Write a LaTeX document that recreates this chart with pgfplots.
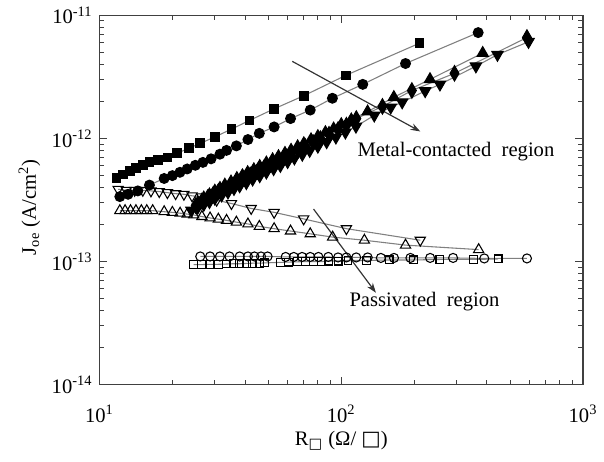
\documentclass[border=0pt]{standalone}
\usepackage{fontspec}
\setmainfont{Liberation Serif}
\newfontfamily\dejavu{DejaVu Sans}
\usepackage{pgfplots}
\pgfplotsset{compat=1.18}
\usetikzlibrary{arrows.meta}

\pgfplotsset{
  ser/.style={color=black!50, line width=0.55pt},
}

\begin{document}
\begin{tikzpicture}[font=\fontsize{10.5}{12.6}\selectfont]
\begin{axis}[
    scale only axis,
    width=245.5bp, height=187.5bp,
    xmode=log, ymode=log,
    xmin=10, xmax=1000, ymin=1e-14, ymax=1e-11,
    xtick={10,100,1000},
    xticklabels={10\textsuperscript{1},10\textsuperscript{2},10\textsuperscript{3}},
    ytick={1e-14,1e-13,1e-12,1e-11},
    yticklabels={10\textsuperscript{-14},10\textsuperscript{-13},10\textsuperscript{-12},10\textsuperscript{-11}},
    tick align=inside,
    major tick length=4bp, minor tick length=2.5bp,
    xticklabel style={yshift=-7bp},
    xlabel={R\textsubscript{\dejavu □} (Ω/ {\dejavu □})},
    ylabel={J\textsubscript{oe} (A/cm\textsuperscript{2})},
    xlabel style={at={(axis description cs:0.5,-0.152)}, anchor=center},
    ylabel style={at={(axis description cs:-0.145,0.48)}, anchor=center},
    axis line style={black!75, line width=0.6pt},
    every tick/.style={black!75, line width=0.5pt},
]
% metal-contacted region, filled symbols
\addplot[ser, mark=square*, mark size=2.2bp, mark options={solid, draw=black, fill=black}] coordinates {
(11.77,4.79e-13) (12.53,5.09e-13) (13.34,5.42e-13) (14.19,5.75e-13) (15.11,6.11e-13)
(16.09,6.43e-13) (17.51,6.70e-13) (19.10,7.01e-13) (20.98,7.59e-13) (23.41,8.32e-13)
(26.11,9.12e-13) (30.05,1.03e-12) (35.14,1.19e-12) (41.72,1.40e-12) (52.76,1.74e-12)
(69.89,2.22e-12) (104.3,3.25e-12) (210.8,5.94e-12)};
\addplot[ser, mark=*, mark size=2.5bp, mark options={solid, draw=black, fill=black}] coordinates {
(12.14,3.37e-13) (13.13,3.52e-13) (14.41,3.75e-13) (16.09,4.18e-13) (18.52,4.73e-13)
(20.02,4.99e-13) (21.52,5.31e-13) (23.05,5.65e-13) (24.91,6.05e-13) (26.77,6.39e-13)
(28.94,6.83e-13) (31.49,7.45e-13) (33.54,8.00e-13) (36.83,8.70e-13) (41.11,9.80e-13)
(45.82,1.10e-12) (52.76,1.24e-12) (61.68,1.45e-12) (74.41,1.70e-12) (91.9,2.12e-12)
(122.7,2.75e-12) (184.4,4.06e-12) (368.3,7.24e-12)};
\addplot[ser, mark=triangle*, mark size=3.3bp, mark options={solid, draw=black, fill=black}] coordinates {
(25.5,3.0e-13) (27,3.3e-13) (28.5,3.5e-13) (30,3.75e-13) (31.5,3.95e-13) (33,4.2e-13)
(35,4.45e-13) (37,4.75e-13) (39,5.0e-13) (41,5.3e-13) (43.5,5.6e-13) (46,5.95e-13)
(49,6.35e-13) (52,6.75e-13) (55,7.15e-13) (58.5,7.6e-13) (62,8.05e-13) (66,8.6e-13)
(70,9.1e-13) (75,9.8e-13) (80,1.04e-12) (86,1.12e-12) (93,1.2e-12) (100,1.3e-12)
(110,1.42e-12) (128.5,1.65e-12) (165,2.16e-12) (232.8,3.02e-12) (384.6,4.93e-12)};
\addplot[ser, mark=triangle*, mark size=3.3bp, mark options={solid, draw=black, fill=black, rotate=180}] coordinates {
(24,2.6e-13) (25.5,2.75e-13) (27,2.9e-13) (28.5,3.05e-13) (30,3.25e-13) (32,3.45e-13)
(34,3.65e-13) (36,3.9e-13) (38,4.1e-13) (40.5,4.35e-13) (43,4.65e-13) (46,4.95e-13)
(49,5.3e-13) (52.5,5.65e-13) (56,6.0e-13) (60,6.45e-13) (64,6.9e-13) (69,7.4e-13)
(74,7.95e-13) (80,8.6e-13) (87,9.35e-13) (95,1.02e-12) (104,1.12e-12) (115,1.25e-12)
(136.9,1.54e-12) (160.2,1.79e-12) (178.6,1.97e-12) (222.3,2.43e-12) (255.9,2.75e-12)
(360.5,3.86e-12) (442.6,4.79e-12) (595,6.1e-12)};
\addplot[ser, mark=diamond*, mark size=3bp, mark options={solid, draw=black, fill=black, yscale=1.3}] coordinates {
(25,2.85e-13) (26.5,3.1e-13) (28,3.3e-13) (29.5,3.5e-13) (31,3.7e-13) (33,3.95e-13)
(35,4.2e-13) (37,4.45e-13) (39.5,4.75e-13) (42,5.05e-13) (45,5.4e-13) (48,5.8e-13)
(51,6.15e-13) (54.5,6.6e-13) (58,7.0e-13) (62,7.5e-13) (66.5,8.05e-13) (71,8.6e-13)
(76.5,9.25e-13) (82,9.95e-13) (89,1.08e-12) (97,1.18e-12) (105,1.28e-12) (115.4,1.45e-12)
(148,1.82e-12) (195.9,2.45e-12) (294,3.38e-12) (586,6.6e-12)};
% passivated region, open symbols
\addplot[ser, mark=triangle, mark size=3bp, mark options={solid, draw=black, fill=white, rotate=180}] coordinates {
(11.95,3.86e-13) (12.92,3.79e-13) (13.98,3.79e-13) (15.11,3.79e-13) (16.33,3.75e-13)
(17.67,3.70e-13) (19.10,3.63e-13) (20.65,3.56e-13) (22.35,3.52e-13) (24.15,3.42e-13)
(26.52,3.35e-13) (30.52,3.15e-13) (35.14,2.96e-13) (42.40,2.70e-13) (52.76,2.51e-13)
(69.89,2.22e-13) (105.0,1.85e-13) (212.2,1.49e-13)};
\addplot[ser, mark=triangle, mark size=3bp, mark options={solid, draw=black, fill=white}] coordinates {
(12.14,2.59e-13) (12.76,2.59e-13) (13.44,2.59e-13) (14.15,2.59e-13) (14.90,2.59e-13)
(15.69,2.59e-13) (16.60,2.59e-13) (18.52,2.54e-13) (20.02,2.51e-13) (21.55,2.47e-13)
(23.05,2.43e-13) (24.54,2.39e-13) (26.52,2.32e-13) (28.67,2.26e-13) (31.01,2.21e-13)
(33.54,2.16e-13) (36.83,2.09e-13) (41.11,2.02e-13) (45.82,1.93e-13) (52.76,1.85e-13)
(61.68,1.77e-13) (74.41,1.68e-13) (92.1,1.58e-13) (124.6,1.49e-13) (184.4,1.36e-13)
(370,1.25e-13)};
\addplot[ser, mark=o, mark size=2.3bp, mark options={solid, draw=black, fill=white}] coordinates {
(26.11,1.10e-13) (28.67,1.10e-13) (31.49,1.10e-13) (34.49,1.10e-13) (38.0,1.10e-13)
(41.11,1.10e-13) (43.72,1.10e-13) (46.56,1.10e-13) (49.58,1.10e-13) (58.88,1.09e-13)
(63.65,1.09e-13) (68.86,1.09e-13) (74.41,1.09e-13) (80.46,1.09e-13) (88.38,1.09e-13)
(97.0,1.08e-13) (105.0,1.08e-13) (115.3,1.08e-13) (128.6,1.08e-13) (145.8,1.07e-13)
(165.2,1.07e-13) (193.2,1.07e-13) (233.1,1.07e-13) (290,1.07e-13) (390.4,1.06e-13)
(586,1.06e-13)};
\addplot[ser, mark=square, mark size=2bp, mark options={solid, draw=black, fill=white}] coordinates {
(24.54,9.45e-14) (26.52,9.45e-14) (28.67,9.5e-14) (31.01,9.5e-14) (33.54,9.55e-14)
(35.70,9.6e-14) (38.0,9.6e-14) (40.45,9.65e-14) (43.07,9.7e-14) (45.82,9.7e-14)
(48.04,9.75e-14) (56.17,9.85e-14) (60.72,9.9e-14) (65.71,9.95e-14) (71.0,1.0e-13)
(76.76,1.0e-13) (83.08,1.0e-13) (88.38,1.01e-13) (97.0,1.01e-13) (106.6,1.02e-13)
(126.7,1.02e-13) (157.6,1.03e-13) (199.3,1.03e-13) (255.9,1.04e-13) (353.2,1.04e-13)
(445,1.05e-13)};
% annotations
\draw[black!80, line width=0.6pt, -{Stealth[length=5bp,width=3.5bp]}]
  (axis cs:62.7,4.23e-12) -- (axis cs:212.2,1.14e-12);
\node at (axis cs:298,7.87e-13) {Metal-contacted\ \ region};
\draw[black!80, line width=0.6pt, -{Stealth[length=5bp,width=3.5bp]}]
  (axis cs:76.8,2.67e-13) -- (axis cs:139.1,5.58e-14);
\node at (axis cs:220.9,4.70e-14) {Passivated\ \ region};
\end{axis}
\path (-50.5bp,-39bp) rectangle (251.5bp,195bp);
\end{tikzpicture}
\end{document}
